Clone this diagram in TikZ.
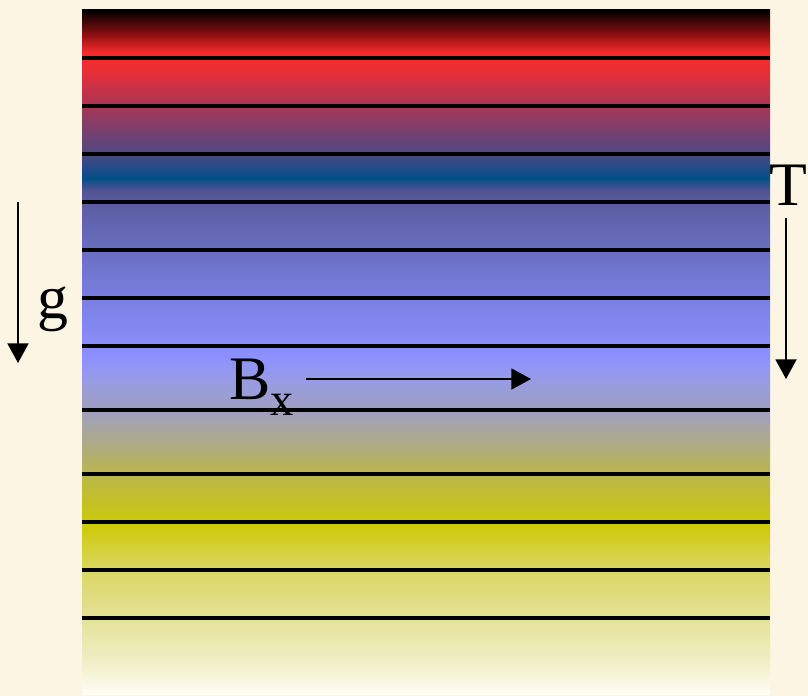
\documentclass[tikz,border=0pt]{standalone}
\usepackage{fontspec}
\setmainfont{Liberation Serif}
\usetikzlibrary{arrows.meta}
\definecolor{Parchment}{RGB}{253,245,228}
\definecolor{SZa}{RGB}{255,254,245}
\definecolor{SZb}{RGB}{240,238,196}
\definecolor{SZc}{RGB}{228,226,150}
\definecolor{SZd}{RGB}{218,214,100}
\definecolor{SZe}{RGB}{205,202,8}
\definecolor{SZf}{RGB}{186,182,76}
\definecolor{SZg}{RGB}{172,170,140}
\definecolor{SZh}{RGB}{160,160,190}
\definecolor{SZi}{RGB}{152,156,228}
\definecolor{SZj}{RGB}{140,144,255}
\definecolor{SZk}{RGB}{122,128,226}
\definecolor{SZl}{RGB}{106,110,192}
\definecolor{SZm}{RGB}{92,94,162}
\definecolor{SZn}{RGB}{82,82,146}
\definecolor{SZo}{RGB}{0,80,136}
\definecolor{SZp}{RGB}{44,74,136}
\definecolor{SZq}{RGB}{84,72,128}
\definecolor{SZr}{RGB}{168,54,86}
\definecolor{SZs}{RGB}{234,46,54}
\definecolor{SZt}{RGB}{245,42,42}
\definecolor{SZu}{RGB}{144,16,16}
\definecolor{SZv}{RGB}{0,0,0}
\pgfdeclareverticalshading{strata}{100bp}{
  color(0bp)=(SZa); color(25bp)=(SZa); color(27.5bp)=(SZb);
  color(30.56bp)=(SZc); color(34.06bp)=(SZd); color(37.35bp)=(SZe);
  color(41.08bp)=(SZf); color(43.57bp)=(SZg); color(45.61bp)=(SZh);
  color(47.95bp)=(SZi); color(49.78bp)=(SZj); color(53.8bp)=(SZk);
  color(57.46bp)=(SZl); color(60.75bp)=(SZm); color(61.84bp)=(SZn);
  color(62.72bp)=(SZo); color(63.67bp)=(SZp); color(64.77bp)=(SZq);
  color(67.98bp)=(SZr); color(70.61bp)=(SZs); color(71.93bp)=(SZt);
  color(73.17bp)=(SZu); color(75bp)=(SZv); color(100bp)=(SZv)}
\tikzset{
  layer/.style={draw=black,line width=2.4pt},
  force/.style={draw=black,line width=1.1pt,-{Triangle[length=14pt,width=15pt]}},
  lbl/.style={inner sep=0pt,anchor=base,font=\fontsize{44}{50}\selectfont},
}

\begin{document}
\begin{tikzpicture}[x=0.025cm,y=-0.025cm]
\fill[Parchment] (0,0) rectangle (808,696);
\useasboundingbox (0,0) rectangle (808,696);
\shade[shading=strata] (82,10) rectangle (770,694);
% layer boundaries
\draw[layer] (82,58) -- (770,58);
\draw[layer] (82,106) -- (770,106);
\draw[layer] (82,154) -- (770,154);
\draw[layer] (82,202) -- (770,202);
\draw[layer] (82,250) -- (770,250);
\draw[layer] (82,298) -- (770,298);
\draw[layer] (82,346) -- (770,346);
\draw[layer] (82,410) -- (770,410);
\draw[layer] (82,474) -- (770,474);
\draw[layer] (82,522) -- (770,522);
\draw[layer] (82,570) -- (770,570);
\draw[layer] (82,618) -- (770,618);
% arrows
\coordinate (gtop) at (18,202);
\coordinate (gbot) at (18,363);
\coordinate (ttop) at (786,218);
\coordinate (tbot) at (786,379);
\coordinate (bleft) at (306,379);
\coordinate (bright) at (531,379);
\draw[force] (gtop) -- (gbot);
\draw[force] (ttop) -- (tbot);
\draw[force] (bleft) -- (bright);
% labels
\node[lbl] (glabel) at (53,318) {g};
\node[lbl] (tlabel) at (788,205) {T};
\node[lbl,anchor=base west] (blabel) at (229,399) {B\raisebox{-12pt}{\fontsize{33}{33}\selectfont x}};
\end{tikzpicture}
\end{document}
